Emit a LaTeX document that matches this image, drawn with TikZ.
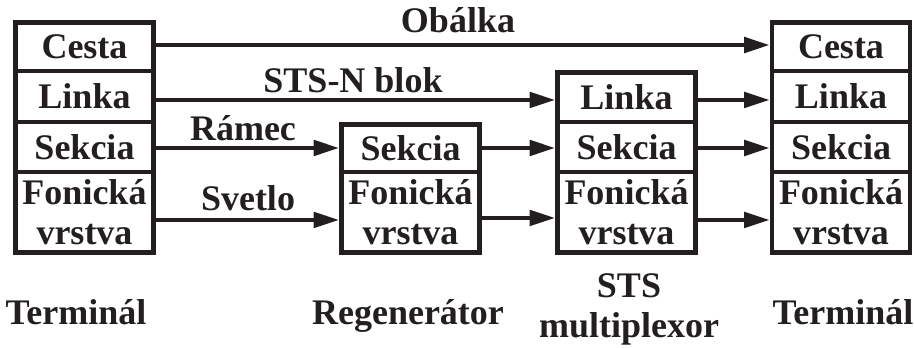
\documentclass[tikz,border=0pt]{standalone}
\usepackage{fontspec}
\setmainfont{LiberationSerif}[Extension=.ttf, UprightFont=*-Regular, BoldFont=*-Bold]
\usetikzlibrary{arrows.meta}
\definecolor{ink}{HTML}{231F20}
\begin{document}
\begin{tikzpicture}[x=0.75pt,y=-0.75pt,
  lbl/.style={font=\fontsize{27}{30}\selectfont\bfseries, text=ink, inner sep=0pt, align=center},
  layer/.style={lbl, draw=ink, line width=3.5pt, minimum width=103.7pt},
  link/.style={draw=ink, line width=3pt, -{Triangle[length=19pt,width=11.5pt]}}]
\useasboundingbox (0,0) rectangle (914,348);

% layer stack of the left terminal
\node[layer, minimum height={48.5*0.75pt}] (lt1) at (84.5,46.75)  {Cesta};
\node[layer, minimum height={51*0.75pt}]   (lt2) at (84.5,96.5)   {Linka};
\node[layer, minimum height={50*0.75pt}]   (lt3) at (84.5,147)    {Sekcia};
\node[layer, minimum height={80.5*0.75pt}] (lt4) at (84.5,212.25) {Fonická\\vrstva};

% regenerator
\node[layer, minimum height={47.5*0.75pt}] (rg3) at (410.5,148.25) {Sekcia};
\node[layer, minimum height={80.5*0.75pt}] (rg4) at (410.5,212.25) {Fonická\\vrstva};

% STS multiplexor
\node[layer, minimum height={49.5*0.75pt}] (mx2) at (626.5,97.25) {Linka};
\node[layer, minimum height={50*0.75pt}]   (mx3) at (626.5,147)   {Sekcia};
\node[layer, minimum height={80.5*0.75pt}] (mx4) at (626.5,212.25) {Fonická\\vrstva};

% layer stack of the right terminal
\node[layer, minimum height={48.5*0.75pt}] (rt1) at (841,46.75)  {Cesta};
\node[layer, minimum height={51*0.75pt}]   (rt2) at (841,96.5)   {Linka};
\node[layer, minimum height={50*0.75pt}]   (rt3) at (841,147)    {Sekcia};
\node[layer, minimum height={80.5*0.75pt}] (rt4) at (841,212.25) {Fonická\\vrstva};

% connections between peer layers
\draw[link] ([yshift=1.3pt]lt1.east) -- ([yshift=1.3pt]lt1.east -| rt1.west);
\draw[link] ([yshift=-2.6pt]lt2.east) -- ([yshift=-2.6pt]lt2.east -| mx2.west);
\draw[link] ([yshift=-2.6pt]lt2.east -| mx2.east) -- ([yshift=-2.6pt]lt2.east -| rt2.west);
\draw[link] ([yshift=-0.75pt]lt3.east) -- ([yshift=-0.75pt]lt3.east -| rg3.west);
\draw[link] ([yshift=-0.75pt]lt3.east -| rg3.east) -- ([yshift=-0.75pt]lt3.east -| mx3.west);
\draw[link] ([yshift=-0.75pt]mx3.east) -- ([yshift=-0.75pt]mx3.east -| rt3.west);
\draw[link] ([yshift=-5.8pt]lt4.east) -- ([yshift=-5.8pt]lt4.east -| rg4.west);
\draw[link] ([yshift=-4.3pt]rg4.east) -- ([yshift=-4.3pt]rg4.east -| mx4.west);
\draw[link] ([yshift=-5.8pt]mx4.east) -- ([yshift=-5.8pt]mx4.east -| rt4.west);

% names of the transported units
\node[lbl, anchor=base] (obalka) at (458,33)  {Obálka};
\node[lbl, anchor=base] (blok)   at (353,93)  {STS-N blok};
\node[lbl, anchor=base] (ramec)  at (243,141) {Rámec};
\node[lbl, anchor=base] (svetlo) at (248,211) {Svetlo};

% equipment names
\node[lbl, anchor=base] (eq1) at (76,325)  {Terminál};
\node[lbl, anchor=base] (eq2) at (408,325) {Regenerátor};
\node[lbl]              (eq3) at (629,309.5) {STS\\multiplexor};
\node[lbl, anchor=base] (eq4) at (843,325) {Terminál};
\end{tikzpicture}
\end{document}
